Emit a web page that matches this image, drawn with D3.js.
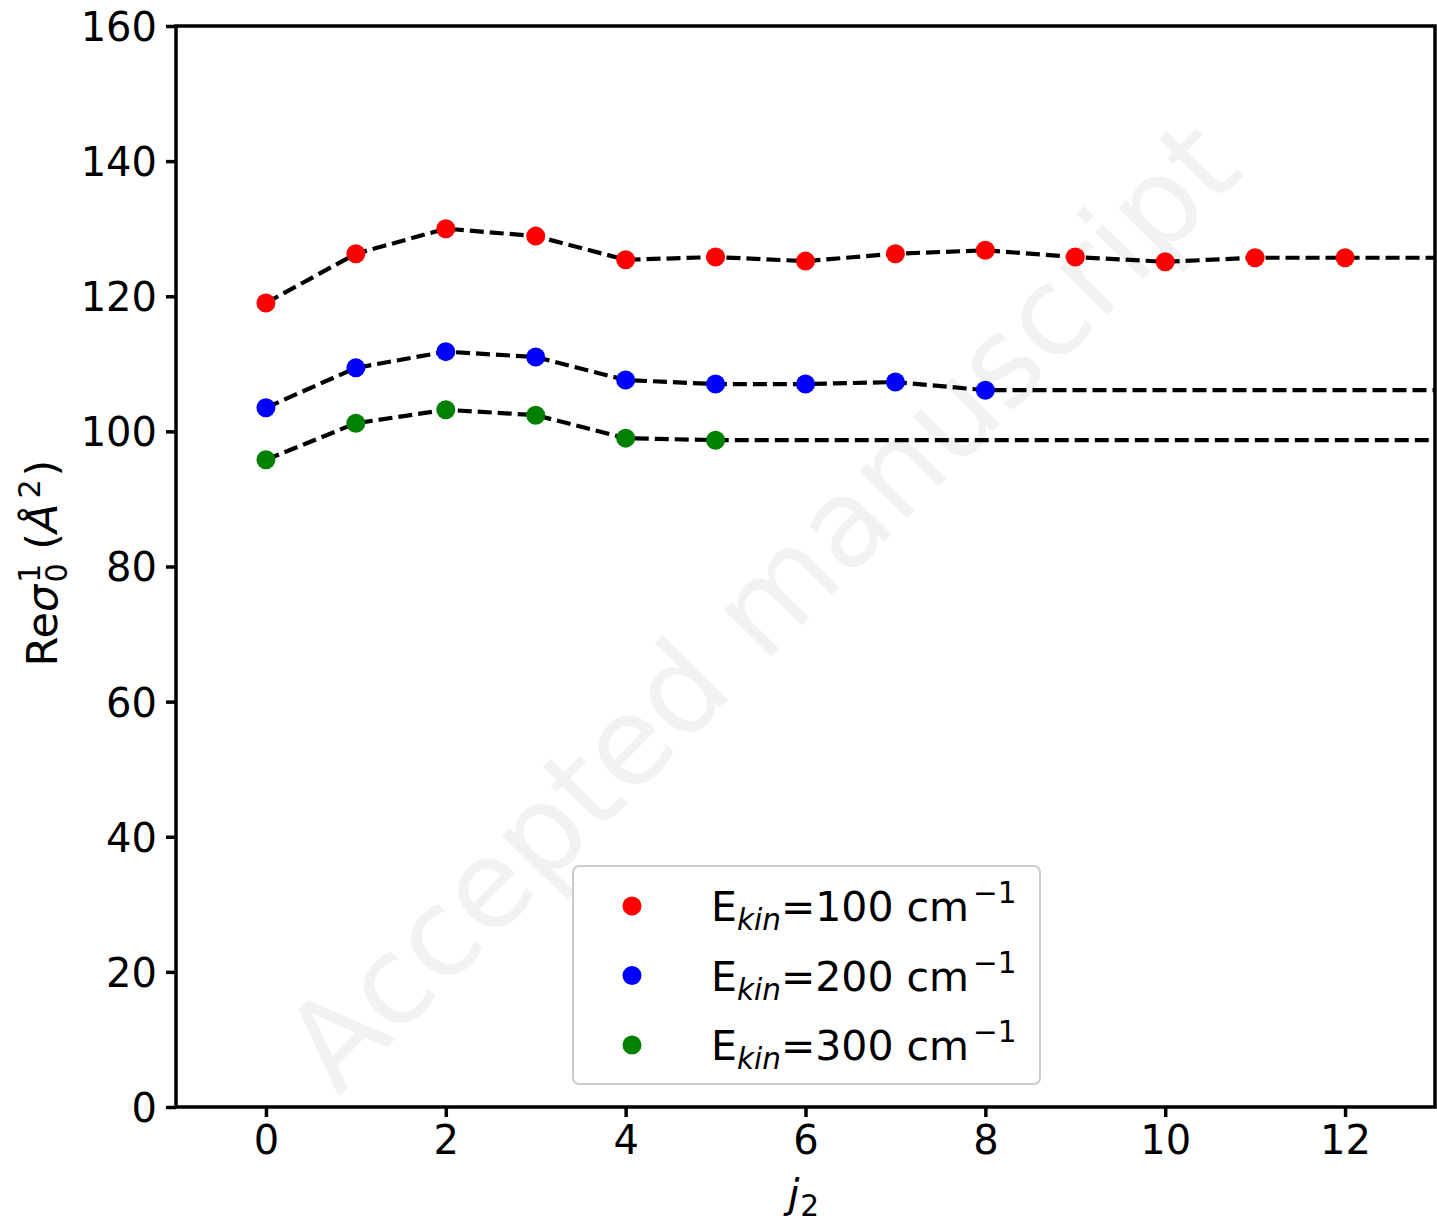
<!DOCTYPE html>
<html>
<head>
<meta charset="utf-8">
<script src="https://cdn.jsdelivr.net/npm/d3@7"></script>
<style>
  html, body { margin: 0; padding: 0; background: #fff; }
  svg { display: block; font-family: "DejaVu Sans", sans-serif; }
</style>
</head>
<body>
<svg id="chart" width="1437" height="1222"></svg>
<script>
// ---- data ----
const jRed = [0,1,2,3,4,5,6,7,8,9,10,11,12];
const valRed = [119.0,126.3,130.0,128.9,125.4,125.8,125.2,126.3,126.8,125.8,125.1,125.7,125.7];
const jBlue = [0,1,2,3,4,5,6,7,8];
const valBlue = [103.5,109.4,111.8,111.0,107.6,107.0,107.0,107.3,106.1];
const jGreen = [0,1,2,3,4,5];
const valGreen = [95.8,101.2,103.2,102.4,99.0,98.7];
const seriesNames = ["100", "200", "300"];
const seriesColors = ["#ff0000", "#0000ff", "#008000"];
const xTicks = [0,2,4,6,8,10,12];
const yTicks = [0,20,40,60,80,100,120,140,160];
const xDomain = [-1, 13];
const yDomain = [0, 160];

const series = [
  {j: jRed, v: valRed},
  {j: jBlue, v: valBlue},
  {j: jGreen, v: valGreen}
].map((s, i) => ({
  name: seriesNames[i],
  color: seriesColors[i],
  pts: s.j.map((x, k) => ({x, y: s.v[k]}))
}));

// ---- layout ----
const svg = d3.select("#chart");
const L = 176, R = 1435, T = 26, B = 1107;
const x = d3.scaleLinear().domain(xDomain).range([L, R]);
const y = d3.scaleLinear().domain(yDomain).range([B, T]);
const FS = 40;

// watermark
svg.append("text")
  .attr("transform", `translate(762,606) rotate(-45.5)`)
  .attr("text-anchor", "middle")
  .attr("dominant-baseline", "central")
  .attr("font-size", 122)
  .attr("fill", "#f2f2f2")
  .text("Accepted manuscript");

// clip
svg.append("defs").append("clipPath").attr("id", "clip")
  .append("rect").attr("x", L).attr("y", T).attr("width", R - L).attr("height", B - T);

const line = d3.line().x(d => x(d.x)).y(d => y(d.y));
const plot = svg.append("g").attr("clip-path", "url(#clip)");

series.forEach(s => {
  const last = s.pts[s.pts.length - 1];
  const ext = s.pts.concat([{x: xDomain[1] + 0.5, y: last.y}]);
  plot.append("path")
    .attr("d", line(ext))
    .attr("fill", "none")
    .attr("stroke", "#000")
    .attr("stroke-width", 4.2)
    .attr("stroke-dasharray", "14,6");
});
series.forEach(s => {
  plot.selectAll(null).data(s.pts).enter().append("circle")
    .attr("cx", d => x(d.x)).attr("cy", d => y(d.y))
    .attr("r", 9.5).attr("fill", s.color);
});

// axes
const xAxis = d3.axisBottom(x).tickValues(xTicks).tickSize(10).tickPadding(9).tickFormat(d3.format("d"));
const yAxis = d3.axisLeft(y).tickValues(yTicks).tickSize(10).tickPadding(9).tickFormat(d3.format("d"));

const gx = svg.append("g").attr("transform", `translate(0,${B})`).call(xAxis);
const gy = svg.append("g").attr("transform", `translate(${L},0)`).call(yAxis);
[gx, gy].forEach(g => {
  g.select(".domain").remove();
  g.selectAll(".tick line").attr("stroke", "#000").attr("stroke-width", 3.5);
  g.selectAll(".tick text").attr("font-size", FS).attr("fill", "#000")
    .attr("font-family", "DejaVu Sans");
});
gy.selectAll(".tick text").attr("dy", "0.36em");

// frame
svg.append("rect").attr("x", L).attr("y", T).attr("width", R - L).attr("height", B - T)
  .attr("fill", "none").attr("stroke", "#000").attr("stroke-width", 3.5);

// x label
const xl = svg.append("text").attr("x", (L + R) / 2 - 2).attr("y", 1208)
  .attr("text-anchor", "middle").attr("font-size", FS + 1);
xl.append("tspan").attr("font-style", "italic").text("j");
xl.append("tspan").attr("font-size", FS * 0.74).attr("dx", 1).attr("dy", 8).text("2");

// y label
const YF = 43;
const yl = svg.append("text")
  .attr("transform", `translate(57,563) rotate(-90)`)
  .attr("text-anchor", "middle").attr("font-size", YF);
yl.append("tspan").text("Re");
yl.append("tspan").attr("font-style", "italic").text("σ");
yl.append("tspan").attr("font-size", YF * 0.7).attr("dx", 2).attr("dy", -17).text("1");
yl.append("tspan").attr("font-size", YF * 0.7).attr("dx", -19).attr("dy", 27).text("0");
yl.append("tspan").attr("dy", -10).text(" (");
yl.append("tspan").attr("font-style", "italic").text("Å");
yl.append("tspan").attr("font-size", YF * 0.7).attr("dx", 5).attr("dy", -17).text("2");
yl.append("tspan").attr("dx", 3).attr("dy", 17).text(")");

// legend
const LF = 41;
const lg = svg.append("g");
lg.append("rect").attr("x", 573).attr("y", 866).attr("width", 467).attr("height", 218)
  .attr("rx", 6).attr("fill", "#fff").attr("fill-opacity", 0.85)
  .attr("stroke", "#cccccc").attr("stroke-width", 2);
series.forEach((s, i) => {
  const cy = 906 + i * 69.5;
  lg.append("circle").attr("cx", 632).attr("cy", cy).attr("r", 9.5).attr("fill", s.color);
  const t = lg.append("text").attr("x", 711).attr("y", cy + 15).attr("font-size", LF);
  t.append("tspan").text("E");
  t.append("tspan").attr("font-style", "italic").attr("font-size", LF * 0.72).attr("dy", 9).text("kin");
  t.append("tspan").attr("dy", -9).text("=" + s.name + " cm");
  t.append("tspan").attr("font-size", LF * 0.72).attr("dx", 4).attr("dy", -18).text("−1");
});
</script>
</body>
</html>
